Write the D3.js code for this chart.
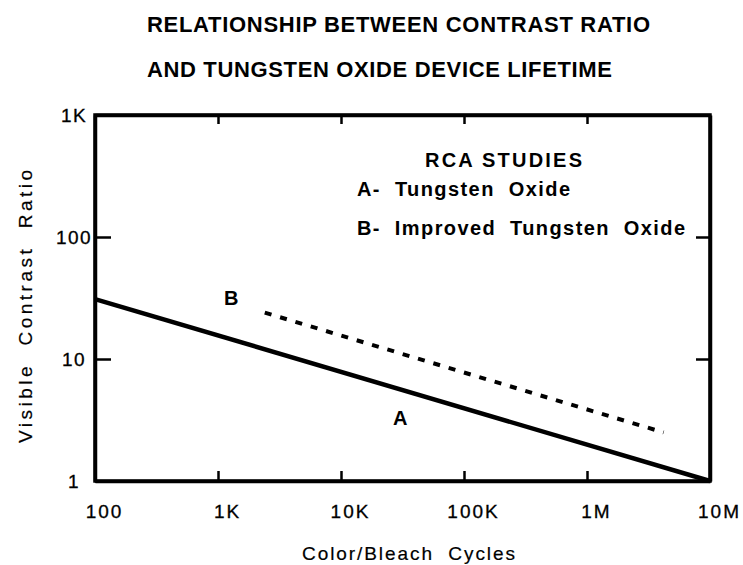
<!DOCTYPE html>
<html>
<head>
    <script src="https://cdnjs.cloudflare.com/ajax/libs/d3/7.8.5/d3.min.js"></script>
    <style>
        body { margin: 0; background: #fff; }
        svg { font-family: "Liberation Sans", Arial, sans-serif; }
        .title { font-size: 22px; font-weight: bold; }
        .legend { font-size: 20px; font-weight: bold; }
        .tick-label { font-size: 19px; stroke: #000; stroke-width: 0.3px; }
        .axis-title { font-size: 19px; stroke: #000; stroke-width: 0.2px; }
    </style>
</head>
<body>
    <svg width="743" height="565"></svg>
    <script>
        // Data
        const xTicks = [1e2, 1e3, 1e4, 1e5, 1e6, 1e7];
        const xTickLabels = ["100", "1K", "10K", "100K", "1M", "10M"];
        const yTicks = [1, 10, 100, 1000];
        const yTickLabels = ["1", "10", "100", "1K"];

        // A- Tungsten Oxide (solid), B- Improved Tungsten Oxide (dashed)
        const cyclesA = [1e2, 1e7];
        const ratioA = [31, 1];
        const cyclesB = [2400, 4.2e6];
        const ratioB = [24, 2.5];

        const svg = d3.select("svg");
        const plotLeft = 95, plotRight = 710, plotTop = 115, plotBottom = 481;

        const x = d3.scaleLog().domain([1e2, 1e7]).range([plotLeft, plotRight]);
        const y = d3.scaleLog().domain([1, 1000]).range([plotBottom, plotTop]);

        // Titles
        svg.append("text").attr("class", "title")
            .attr("x", 147).attr("y", 32)
            .attr("textLength", 503).attr("lengthAdjust", "spacing")
            .text("RELATIONSHIP BETWEEN CONTRAST RATIO");
        svg.append("text").attr("class", "title")
            .attr("x", 147).attr("y", 77)
            .attr("textLength", 465).attr("lengthAdjust", "spacing")
            .text("AND TUNGSTEN OXIDE DEVICE LIFETIME");

        // Axes with inward ticks
        const gx = svg.append("g")
            .attr("transform", `translate(0,${plotBottom})`)
            .call(d3.axisBottom(x).tickValues(xTicks)
                .tickFormat((d, i) => xTickLabels[i])
                .tickSize(-10).tickSizeOuter(0));
        gx.selectAll("text")
            .attr("class", "tick-label")
            .attr("y", 37).attr("dy", 0).attr("dx", 9)
            .attr("letter-spacing", 2);

        svg.append("g")
            .attr("transform", `translate(0,${plotTop})`)
            .call(d3.axisTop(x).tickValues(xTicks.slice(1, -1))
                .tickFormat("").tickSize(-9).tickSizeOuter(0));

        const gy = svg.append("g")
            .attr("transform", `translate(${plotLeft},0)`)
            .call(d3.axisLeft(y).tickValues(yTicks)
                .tickFormat((d, i) => yTickLabels[i])
                .tickSize(-16).tickSizeOuter(0));
        gy.selectAll("text")
            .attr("class", "tick-label")
            .attr("x", -21).attr("dy", "0.36em")
            .attr("text-anchor", "middle")
            .attr("letter-spacing", 1.5);

        svg.append("g")
            .attr("transform", `translate(${plotRight},0)`)
            .call(d3.axisRight(y).tickValues([10, 100])
                .tickFormat("").tickSize(-14).tickSizeOuter(0));

        svg.selectAll("g").attr("font-size", null).attr("font-family", null);
        svg.selectAll(".tick line").attr("stroke", "#000").attr("stroke-width", 2.5);
        svg.selectAll(".domain").attr("stroke", "#000").attr("stroke-width", 3.5);
        svg.selectAll(".tick text").attr("fill", "#000");

        // Frame
        svg.append("rect")
            .attr("x", plotLeft).attr("y", plotTop)
            .attr("width", plotRight - plotLeft).attr("height", plotBottom - plotTop)
            .attr("fill", "none").attr("stroke", "#000").attr("stroke-width", 3.5);

        // Lines
        const line = d3.line().x(d => x(d[0])).y(d => y(d[1]));
        svg.append("path")
            .datum(d3.zip(cyclesA, ratioA))
            .attr("d", line)
            .attr("fill", "none").attr("stroke", "#000").attr("stroke-width", 4.5);
        svg.append("path")
            .datum(d3.zip(cyclesB, ratioB))
            .attr("d", line)
            .attr("fill", "none").attr("stroke", "#000").attr("stroke-width", 4)
            .attr("stroke-dasharray", "7,9");

        // Line labels
        svg.append("text").attr("class", "legend").attr("x", 224).attr("y", 305).text("B");
        svg.append("text").attr("class", "legend").attr("x", 393).attr("y", 425).text("A");

        // Legend
        svg.append("text").attr("class", "legend")
            .attr("x", 425).attr("y", 167)
            .attr("textLength", 157).attr("lengthAdjust", "spacing")
            .text("RCA STUDIES");
        svg.append("text").attr("class", "legend")
            .attr("x", 357).attr("y", 196)
            .attr("textLength", 213).attr("lengthAdjust", "spacing")
            .attr("xml:space", "preserve")
            .text("A-  Tungsten  Oxide");
        svg.append("text").attr("class", "legend")
            .attr("x", 357).attr("y", 235)
            .attr("textLength", 328).attr("lengthAdjust", "spacing")
            .attr("xml:space", "preserve")
            .text("B-  Improved  Tungsten  Oxide");

        // Axis titles
        svg.append("text").attr("class", "axis-title")
            .attr("x", 302).attr("y", 560)
            .attr("textLength", 213).attr("lengthAdjust", "spacing")
            .attr("xml:space", "preserve")
            .text("Color/Bleach  Cycles");
        svg.append("text").attr("class", "axis-title")
            .attr("transform", "translate(32,443) rotate(-90)")
            .attr("textLength", 273).attr("lengthAdjust", "spacing")
            .attr("xml:space", "preserve")
            .text("Visible  Contrast  Ratio");
    </script>
</body>
</html>
